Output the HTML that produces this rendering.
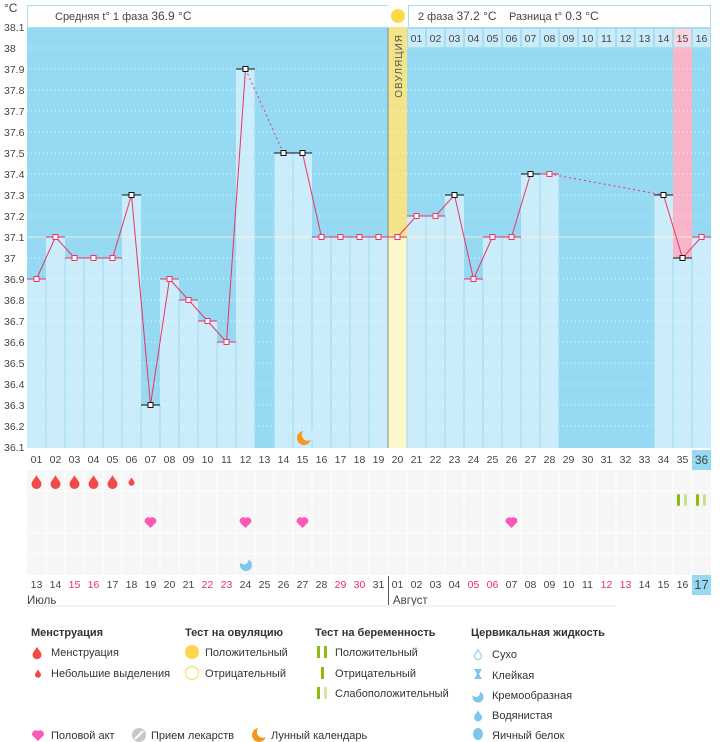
<!DOCTYPE html>
<html><head><meta charset="utf-8"><style>
body{margin:0;background:#fff;width:720px;height:742px;overflow:hidden;font-family:"Liberation Sans","DejaVu Sans",sans-serif}
svg{display:block}
text{font-family:"Liberation Sans","DejaVu Sans",sans-serif}
</style></head><body>
<svg width="720" height="742" xmlns="http://www.w3.org/2000/svg" id="s">
<rect width="720" height="742" fill="#fff"/>
</svg>
<script>
const S=document.getElementById('s');let h='';
const X=i=>27+(i-1)*19, C=i=>36.5+(i-1)*19, Y=t=>27+(38.1-t)*210;
const v=[36.9,37.1,37.0,37.0,37.0,37.3,36.3,36.9,36.8,36.7,36.6,37.9,null,37.5,37.5,37.1,37.1,37.1,37.1,37.1,37.2,37.2,37.3,36.9,37.1,37.1,37.4,37.4,null,null,null,null,null,37.3,37.0,37.1];
h+=`<rect x="27" y="27" width="684" height="421" fill="#95d9f2"/>`;
for(let i=1;i<=36;i++){const t=v[i-1];
 if(i==20){h+=`<rect x="${X(i)}" y="27" width="19" height="421" fill="#f3e48a"/>`;h+=`<rect x="${X(i)}" y="${Y(t)}" width="19" height="${448-Y(t)}" fill="#fdf7cc"/>`;continue}
 if(i==35){h+=`<rect x="${X(i)}" y="48" width="19" height="${Y(t)-48}" fill="#f8b4c8"/>`}
 if(t!=null)h+=`<rect x="${X(i)}" y="${Y(t)}" width="19" height="${448-Y(t)}" fill="#cbedfb"/>`;
}
for(let k=1;k<20;k++){const y=27+k*21;h+=`<line x1="27" x2="711" y1="${y}" y2="${y}" stroke="#fff" stroke-dasharray="1 3" opacity=".8"/>`}
for(let i=2;i<=36;i++){const a=v[i-2],b=v[i-1];if(a==null&&b==null)continue;const t=Math.min(a??99,b??99);h+=`<line x1="${X(i)}" x2="${X(i)}" y1="${Y(t)}" y2="448" stroke="#9fd9f0"/>`}
h+=`<line x1="388" x2="388" y1="27" y2="448" stroke="#888" stroke-width="1"/>`;
h+=`<line x1="27" x2="711" y1="${Y(37.1)}" y2="${Y(37.1)}" stroke="#fdf6c8" opacity=".8"/>`;
h+=`<rect x="27.5" y="5.5" width="361" height="22" fill="#fff" stroke="#a9dcf1"/>`;
h+=`<text x="55" y="20" font-size="11" fill="#444">Средняя t° 1 фаза <tspan font-size="12">36.9 °C</tspan></text>`;
h+=`<rect x="388" y="5" width="20" height="22" fill="#fff"/><circle cx="398" cy="16" r="7" fill="#fdd94a"/>`;
h+=`<rect x="408.5" y="5.5" width="302" height="22" fill="#fff" stroke="#a9dcf1"/>`;
h+=`<text x="418" y="20" font-size="11" fill="#444">2 фаза <tspan font-size="12">37.2 °C</tspan></text><text x="509" y="20" font-size="11" fill="#444">Разница t° <tspan font-size="12">0.3 °C</tspan></text>`;
for(let i=21;i<=36;i++){const d=i-20;h+=`<rect x="${X(i)+.5}" y="28.5" width="18" height="19" fill="${i==35?'#fbd6e0':'#c9ecfb'}" stroke="#a9dcf1"/><text x="${C(i)}" y="42" font-size="10.5" text-anchor="middle" fill="#444">${String(d).padStart(2,'0')}</text>`}
h+=`<text x="398" y="34" font-size="10" fill="#555" transform="rotate(-90 398 34)" text-anchor="end" dy="4" letter-spacing="1">ОВУЛЯЦИЯ</text>`;
h+=`<text x="4" y="12" font-size="12" fill="#444">°C</text>`;
for(let k=0;k<=20;k++){const t=(38.1-k*0.1);let s=t.toFixed(1);if(s.endsWith('.0'))s=s.slice(0,-2);h+=`<text x="4" y="${27+k*21+4}" font-size="10.5" fill="#444">${s}</text>`}
let pts=[];for(let i=1;i<=36;i++)if(v[i-1]!=null)pts.push(i);
for(let k=0;k<pts.length-1;k++){const a=pts[k],b=pts[k+1];h+=`<line x1="${C(a)}" y1="${Y(v[a-1])}" x2="${C(b)}" y2="${Y(v[b-1])}" stroke="#ec3464" stroke-width="1" ${b-a>1?'stroke-dasharray="2 3"':''}/>`}
const blk=[6,7,12,14,15,23,27,34,35];
for(const i of pts){const y=Y(v[i-1]);const c=blk.includes(i)?'#111':'#ec3464';
 h+=`<line x1="${X(i)}" x2="${X(i)+19}" y1="${y}" y2="${y}" stroke="${c}"/>`;
 h+=`<rect x="${C(i)-2.5}" y="${y-2.5}" width="5" height="5" fill="#fff" stroke="${c}"/>`}
const moon=(cx,cy,r,bg)=>`<circle cx="${cx}" cy="${cy}" r="${r}" fill="#f39a1d"/><circle cx="${cx+r*0.55}" cy="${cy-r*0.45}" r="${r*0.85}" fill="${bg}"/>`;
h+=moon(304,438,7,'#cbedfb');
for(let i=1;i<=36;i++){h+=`<text x="${C(i)}" y="463" font-size="10.5" text-anchor="middle" fill="#444">${String(i).padStart(2,'0')}</text>`}
h+=`<rect x="692" y="450" width="19" height="20" fill="#95d9f2"/><text x="701.5" y="464" font-size="12" text-anchor="middle" fill="#444">36</text>`;
h+=`<rect x="27" y="470" width="684" height="105" fill="#f6f6f6"/>`;
for(let i=2;i<=36;i++)h+=`<line x1="${X(i)}" x2="${X(i)}" y1="470" y2="575" stroke="#fff"/>`;
for(let r=1;r<5;r++)h+=`<line x1="27" x2="711" y1="${470+r*21}" y2="${470+r*21}" stroke="#fff"/>`;
const drop=(cx,cy,s,c)=>`<path d="M${cx} ${cy-6*s} C${cx+1*s} ${cy-3*s} ${cx+5*s} ${cy} ${cx+5*s} ${cy+3*s} A${5*s} ${5*s} 0 0 1 ${cx-5*s} ${cy+3*s} C${cx-5*s} ${cy} ${cx-1*s} ${cy-3*s} ${cx} ${cy-6*s}z" fill="${c}"/>`;
for(let i=1;i<=5;i++)h+=drop(C(i),481,1,'#f04a4a');h+=drop(C(6),481,.6,'#f04a4a');
const heart=(cx,cy)=>`<path d="M${cx} ${cy+5} L${cx-5} ${cy} A3 3 0 0 1 ${cx} ${cy-3} A3 3 0 0 1 ${cx+5} ${cy} Z" fill="#fb59b6" stroke="#fb59b6" stroke-width="1.5" stroke-linejoin="round"/>`;
for(const i of [7,12,15,26])h+=heart(C(i),522);
const cream=(cx,cy)=>`<circle cx="${cx}" cy="${cy}" r="6" fill="#7ec6ee"/><circle cx="${cx-2}" cy="${cy-4}" r="4.5" fill="#fff"/>`;
h+=`<circle cx="246" cy="565" r="6" fill="#7ec6ee"/><circle cx="244" cy="560" r="4.5" fill="#f6f6f6"/>`;
h+=`<rect x="677" y="494" width="3" height="12" rx="1.5" fill="#8cbd0d"/><rect x="684" y="494" width="3" height="12" rx="1.5" fill="#c9e08a"/><rect x="696" y="494" width="3" height="12" rx="1.5" fill="#8cbd0d"/><rect x="703" y="494" width="3" height="12" rx="1.5" fill="#c9e08a"/>`;
const dates=[13,14,15,16,17,18,19,20,21,22,23,24,25,26,27,28,29,30,31,1,2,3,4,5,6,7,8,9,10,11,12,13,14,15,16];
const red=[3,4,10,11,17,18,24,25,31,32];
for(let i=1;i<=35;i++)h+=`<text x="${C(i)}" y="588" font-size="10.5" text-anchor="middle" fill="${red.includes(i)?'#ee2f5d':'#444'}">${String(dates[i-1]).padStart(2,'0')}</text>`;
h+=`<rect x="692" y="575" width="19" height="20" fill="#95d9f2"/><text x="701.5" y="589" font-size="13" text-anchor="middle" fill="#444">17</text>`;
h+=`<line x1="388.5" x2="388.5" y1="576" y2="605" stroke="#555"/>`;
h+=`<text x="27" y="604" font-size="11.5" fill="#444">Июль</text><text x="393" y="604" font-size="11.5" fill="#444">Август</text>`;
h+=`<line x1="27" x2="616" y1="606" y2="606" stroke="#e6e6e6"/>`;
const T=(x,y,s,b)=>`<text x="${x}" y="${y}" font-size="11" fill="#333" ${b?'font-weight="bold"':''}>${s}</text>`;
h+=T(31,636,'Менструация',1)+drop(37,652,.9,'#f04a4a')+T(51,656,'Менструация')+drop(38,673,.6,'#f04a4a')+T(51,677,'Небольшие выделения');
h+=T(185,636,'Тест на овуляцию',1)+`<circle cx="192" cy="652" r="7" fill="#fdd94a"/><circle cx="192" cy="673" r="6.5" fill="#fff" stroke="#fdd94a"/>`+T(205,656,'Положительный')+T(205,677,'Отрицательный');
h+=T(315,636,'Тест на беременность',1)+`<rect x="317" y="646" width="3" height="12" fill="#8cbd0d"/><rect x="324" y="646" width="3" height="12" fill="#8cbd0d"/><rect x="321" y="667" width="3" height="12" fill="#8cbd0d"/><rect x="317" y="687" width="3" height="12" fill="#8cbd0d"/><rect x="324" y="687" width="3" height="12" fill="#d5e8a6"/>`+T(335,656,'Положительный')+T(335,677,'Отрицательный')+T(335,697,'Слабоположительный');
h+=T(471,636,'Цервикальная жидкость',1);
h+=drop(478,654,.7,'none').replace('fill="none"','fill="#fff" stroke="#7ec6ee"')+T(492,658,'Сухо');
h+=`<path d="M474 669 h8 l-3 5 l3 5 h-8 l3 -5z" fill="#7ec6ee"/>`+T(492,679,'Клейкая');
h+=`<circle cx="478" cy="697" r="5.5" fill="#7ec6ee"/><circle cx="476" cy="693" r="4" fill="#fff"/>`+T(492,699,'Кремообразная');
h+=drop(478,715,.8,'#7ec6ee')+T(492,719,'Водянистая');
h+=`<ellipse cx="478" cy="734" rx="5" ry="6" fill="#7ec6ee"/>`+T(492,739,'Яичный белок');
h+=heart(38,735)+T(51,739,'Половой акт');
h+=`<circle cx="139" cy="735" r="7" fill="#c8c8c8"/><line x1="135" y1="739" x2="143" y2="731" stroke="#fff" stroke-width="2"/>`+T(151,739,'Прием лекарств');
h+=moon(259,735,7,'#fff')+T(271,739,'Лунный календарь');
S.innerHTML+=h;
</script>
</body></html>
